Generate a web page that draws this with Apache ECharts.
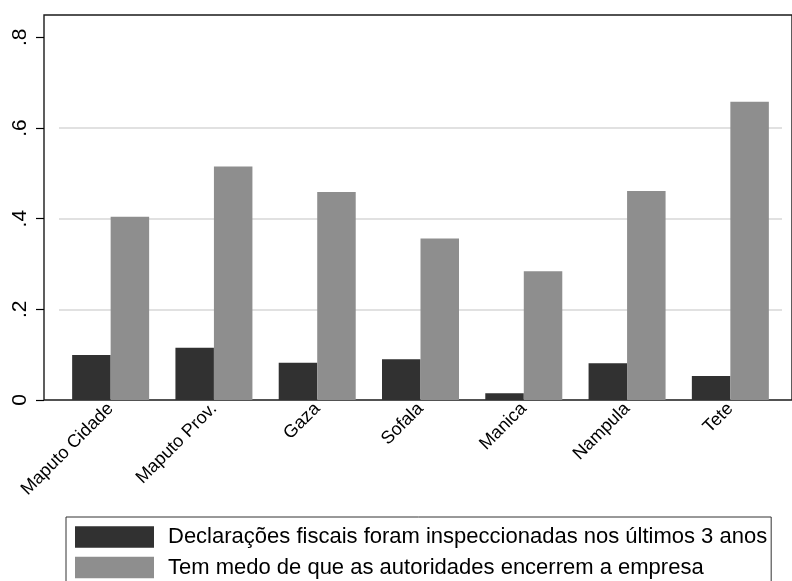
<!DOCTYPE html>
<html>
<head>
<meta charset="utf-8">
<script src="https://cdn.jsdelivr.net/npm/echarts@6/dist/echarts.min.js"></script>
<style>
    html, body { margin: 0; padding: 0; background: #fff; }
    #bar { width: 792px; height: 581px; }
</style>
</head>
<body>
<div id="bar"></div>
<script>
// dados
var regions = ['Maputo Cidade', 'Maputo Prov.', 'Gaza', 'Sofala', 'Manica', 'Nampula', 'Tete'];
var inspected = [0.099, 0.115, 0.082, 0.090, 0.015, 0.081, 0.053];
var fearClosure = [0.404, 0.515, 0.459, 0.356, 0.284, 0.461, 0.658];
var seriesNames = [
    'Declarações fiscais foram inspeccionadas nos últimos 3 anos',
    'Tem medo de que as autoridades encerrem a empresa'
];

var font = ['Liberation Sans', 'Arial', 'sans-serif'];

var mcharts = echarts.init(document.getElementById('bar'));

var option = {
    animation: false,
    textStyle: {
        fontFamily: font
    },
    grid: [
        // grid dos dados
        { left: 59, right: 10, top: 37.3, bottom: 181, containLabel: false },
        // moldura (eixo esquerdo, topo e base)
        {
            left: 44, top: 15, width: 770, bottom: 181,
            show: true,
            backgroundColor: 'transparent',
            borderColor: '#1a1a1a',
            borderWidth: 1.4
        }
    ],
    legend: {
        orient: 'vertical',
        left: 66,
        top: 517,
        height: 120,
        padding: [9, 4, 9, 9],
        itemWidth: 79,
        itemHeight: 21.5,
        itemGap: 8.5,
        icon: 'rect',
        borderColor: '#333',
        borderWidth: 1,
        textStyle: {
            fontFamily: font,
            fontSize: 22,
            color: '#000',
            padding: [0, 0, 0, 9]
        },
        data: seriesNames
    },
    xAxis: [
        {
            type: 'category',
            gridIndex: 0,
            data: regions,
            axisLine: { show: false },
            axisTick: { show: false },
            axisLabel: {
                rotate: 45,
                margin: 6,
                fontSize: 18,
                color: '#000',
                interval: 0
            }
        },
        { type: 'value', gridIndex: 1, show: false }
    ],
    yAxis: [
        {
            type: 'value',
            gridIndex: 0,
            min: 0,
            max: 0.8,
            interval: 0.2,
            offset: 15,
            axisLine: { show: false },
            axisTick: {
                show: true,
                length: 8,
                lineStyle: { color: '#000', width: 1.2 }
            },
            axisLabel: {
                rotate: 90,
                margin: 13,
                fontSize: 21,
                color: '#000',
                formatter: function (v) {
                    return v === 0 ? '0' : v.toFixed(1).replace(/^0/, '');
                }
            },
            splitLine: {
                show: true,
                showMinLine: false,
                showMaxLine: false,
                lineStyle: { color: '#e1e1e1', width: 2 }
            }
        },
        { type: 'value', gridIndex: 1, show: false }
    ],
    series: [
        {
            name: seriesNames[0],
            type: 'bar',
            xAxisIndex: 0,
            yAxisIndex: 0,
            barWidth: 38.5,
            barGap: '0%',
            itemStyle: { color: '#313131' },
            data: inspected
        },
        {
            name: seriesNames[1],
            type: 'bar',
            xAxisIndex: 0,
            yAxisIndex: 0,
            barWidth: 38.5,
            barGap: '0%',
            itemStyle: { color: '#8e8e8e' },
            data: fearClosure
        }
    ]
};

mcharts.setOption(option, true);
</script>
</body>
</html>
